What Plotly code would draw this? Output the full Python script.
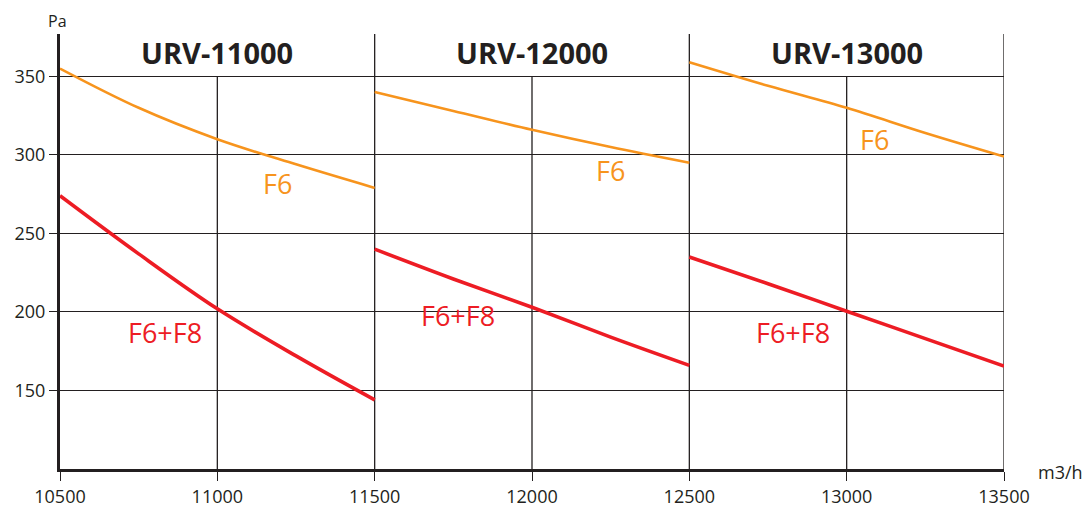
import plotly.graph_objects as go

# ---- data ----
models = ["URV-11000", "URV-12000", "URV-13000"]
model_centers = [11000, 12000, 13000]

x_11000 = [10500, 10750, 11000, 11250, 11500]
f6_11000 = [355, 330, 310, 294, 279]
f6f8_11000 = [274, 237, 202, 172, 144]

x_12000 = [11500, 11750, 12000, 12250, 12500]
f6_12000 = [340, 328, 316, 305, 295]
f6f8_12000 = [240, 221, 203, 184, 166]

x_13000 = [12500, 12750, 13000, 13250, 13500]
f6_13000 = [359, 344, 330, 314, 299]
f6f8_13000 = [235, 218, 200.5, 183, 165.5]

# label positions (data coords)
f6_label_x = [11190, 12248, 13087]
f6_label_y = [282, 290, 310]
f6f8_label_x = [10834, 11765, 12831]
f6f8_label_y = [187, 198, 187]

x_ticks = [10500, 11000, 11500, 12000, 12500, 13000, 13500]
y_ticks = [150, 200, 250, 300, 350]
section_bounds = [11500, 12500, 13500]
y_min, y_max = 100, 377
grid_top = 350

ORANGE = "#F7941D"
RED = "#ED1C24"
DARK = "#231F20"
FONT = "Open Sans"

fig = go.Figure()

xs = [x_11000, x_12000, x_13000]
f6s = [f6_11000, f6_12000, f6_13000]
f6f8s = [f6f8_11000, f6f8_12000, f6f8_13000]

for x, a, b in zip(xs, f6s, f6f8s):
    fig.add_trace(go.Scatter(x=x, y=a, mode="lines", line=dict(color=ORANGE, width=2.6, shape="spline"),
                             showlegend=False, hoverinfo="skip"))
    fig.add_trace(go.Scatter(x=x, y=b, mode="lines", line=dict(color=RED, width=3.6, shape="spline"),
                             showlegend=False, hoverinfo="skip"))

# vertical grid lines
for t in x_ticks[1:]:
    top = y_max if t in section_bounds else grid_top
    fig.add_shape(type="line", xref="x", yref="y", x0=t, x1=t, y0=y_min, y1=top,
                  line=dict(color=DARK, width=1.3), layer="below")

# titles
for name, cx in zip(models, model_centers):
    fig.add_annotation(x=cx, y=365.5, xref="x", yref="y", text=f"<b>{name}</b>", showarrow=False,
                       font=dict(family=FONT, size=29, color=DARK), xanchor="center", yanchor="middle")

for lx, ly in zip(f6_label_x, f6_label_y):
    fig.add_annotation(x=lx, y=ly, xref="x", yref="y", text="F6", showarrow=False,
                       font=dict(family=FONT, size=27, color=ORANGE), xanchor="center", yanchor="middle")
for lx, ly in zip(f6f8_label_x, f6f8_label_y):
    fig.add_annotation(x=lx, y=ly, xref="x", yref="y", text="F6+F8", showarrow=False,
                       font=dict(family=FONT, size=27, color=RED), xanchor="center", yanchor="middle")

# axis unit labels
fig.add_annotation(x=10500, y=1, xref="x", yref="paper", text="Pa", showarrow=False,
                   font=dict(family=FONT, size=16, color=DARK), xanchor="center", yanchor="bottom",
                   xshift=-3, yshift=1, borderpad=0)
fig.add_annotation(x=13500, y=0, xref="x", yref="paper", text="m3/h", showarrow=False,
                   font=dict(family=FONT, size=18, color=DARK), xanchor="left", yanchor="middle",
                   xshift=32, yshift=-3)

# page body has an 8px margin; size/margins compensate so the plot lands where the reference has it
fig.update_layout(
    width=1083, height=501,
    margin=dict(l=52, r=87, t=26, b=40),
    plot_bgcolor="white", paper_bgcolor="white",
    font=dict(family=FONT, color=DARK),
)
fig.update_xaxes(range=[10500, 13500], tickvals=x_ticks, ticktext=[str(v) for v in x_ticks],
                 showgrid=False, zeroline=False, showline=True, linecolor=DARK, linewidth=3,
                 ticks="outside", ticklen=9, tickcolor=DARK, tickwidth=1.3, automargin=False,
                 tickfont=dict(family=FONT, size=18, color=DARK))
fig.update_yaxes(range=[y_min, y_max], tickvals=y_ticks, ticktext=[str(v) for v in y_ticks],
                 showgrid=True, gridcolor=DARK, gridwidth=1.3, zeroline=False,
                 showline=True, linecolor=DARK, linewidth=3, automargin=False,
                 ticks="outside", ticklen=8, tickcolor=DARK, tickwidth=1.3,
                 tickfont=dict(family=FONT, size=18, color=DARK))

fig.write_html("out.html")
